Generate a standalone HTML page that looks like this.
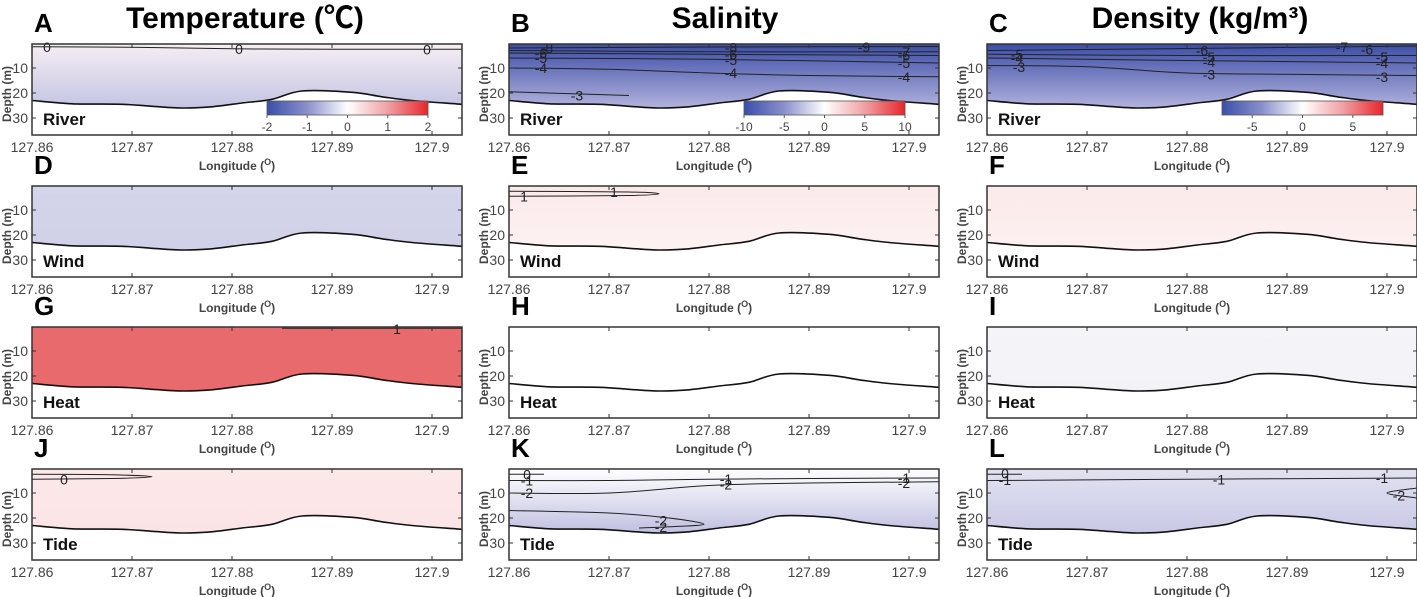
<!DOCTYPE html>
<html><head><meta charset="utf-8">
<style>
html,body{margin:0;padding:0;background:#fff;}
svg{display:block;font-family:"Liberation Sans",Arial,sans-serif;}
</style></head>
<body>
<svg id="fig" width="1417" height="597" viewBox="0 0 1417 597" xmlns="http://www.w3.org/2000/svg">
<defs>
<linearGradient id="cbar" x1="0" x2="1" y1="0" y2="0">
<stop offset="0" stop-color="#3a4fa8"/><stop offset="0.25" stop-color="#8a90cc"/><stop offset="0.5" stop-color="#ffffff"/><stop offset="0.75" stop-color="#f0a0a4"/><stop offset="1" stop-color="#e8262c"/>
</linearGradient>
</defs>
<text x="245" y="28" font-size="30" font-weight="bold" text-anchor="middle" font-family="'Liberation Sans','Noto Sans CJK KR',sans-serif">Temperature (℃)</text>
<text x="725" y="28" font-size="30" font-weight="bold" text-anchor="middle">Salinity</text>
<text x="1200" y="28" font-size="30" font-weight="bold" text-anchor="middle">Density (kg/m³)</text>
</svg>
<script>
const lonTicks = [127.86, 127.87, 127.88, 127.89, 127.9];
const depthTicks = [10, 20, 30];
const bathyLon = [127.86, 127.864, 127.869, 127.872, 127.875, 127.878, 127.881, 127.884, 127.887, 127.892, 127.895, 127.898, 127.903];
const bathyDepth = [23, 24.3, 24.5, 25.3, 26, 25.5, 24, 22.5, 19.2, 19.7, 21.5, 23, 24.5];
const rowNames = ["River", "Wind", "Heat", "Tide"];
const panelLetters = ["A","B","C","D","E","F","G","H","I","J","K","L"];
const panelTop = ["#f6eef4","#3c4ea8","#3c4ea8","#d4d4ea","#fbe9ea","#fbeaea","#e96a6d","#ffffff","#f5f5f9","#fde8e9","#ffffff","#e2e2f1"];
const panelBottom = ["#c4c4e2","#b2b2dc","#b2b2dc","#d0d0e8","#fdf2f2","#fcf0f0","#e96a6d","#ffffff","#f3f3f7","#fbe4e5","#c0c0e1","#c8c8e5"];
const cbarTicks = [[-2,-1,0,1,2],[-10,-5,0,5,10],[-5,0,5]];
const cbarRange = [2,10,8];
const contours = [
 [0,[127.86,127.87,127.88,127.89,127.903],[1.5,1.7,2.3,2.5,2.5],[[127.8615,1.5,"0"],[127.8807,2.3,"0"],[127.8995,2.5,"0"]]],
 [1,[127.86,127.88,127.903],[2,1.6,1.4],[[127.8638,2,"-8"],[127.8822,1.8,"-8"],[127.8955,1.5,"-9"]]],
 [1,[127.86,127.88,127.903],[3,3.5,3.5],[[127.8995,3.5,"-7"]]],
 [1,[127.86,127.88,127.903],[4,4.5,5],[[127.8632,4,"-6"],[127.8822,4.5,"-6"],[127.8995,5,"-6"]]],
 [1,[127.86,127.88,127.903],[6,6.5,8],[[127.8632,6,"-5"],[127.8822,6.8,"-5"],[127.8995,8,"-5"]]],
 [1,[127.86,127.87,127.88,127.89,127.903],[10,10.5,12,13,13.5],[[127.8632,10,"-4"],[127.8822,12,"-4"],[127.8995,13.5,"-4"]]],
 [1,[127.86,127.868,127.872],[19.5,20.5,21],[[127.8668,21,"-3"]]],
 [2,[127.86,127.88,127.903],[3,2.2,1.2],[[127.8815,3,"-6"],[127.8955,1.5,"-7"],[127.8980,2.5,"-6"]]],
 [2,[127.86,127.88,127.903],[4.5,5,5],[[127.8630,4.5,"-5"],[127.8822,5.5,"-5"],[127.8995,5.5,"-5"]]],
 [2,[127.86,127.88,127.903],[6,7,8],[[127.8630,6,"-4"],[127.8822,7.5,"-4"],[127.8995,8,"-4"]]],
 [2,[127.86,127.87,127.88,127.89,127.903],[9,9.5,12,12.5,13],[[127.8632,9.5,"-3"],[127.8822,12.5,"-3"],[127.8995,13.5,"-3"]]],
 [4,[127.86,127.872,127.875,127.872,127.86],[2.5,2.8,3.5,4.2,4.5],[[127.8615,4.5,"1"],[127.8705,2.8,"1"]]],
 [6,[127.885,127.903],[0.9,0.9],[[127.8965,1.2,"1"]]],
 [9,[127.86,127.868,127.872,127.868,127.86],[2.5,2.7,3.5,4.2,4.5],[[127.8632,4.5,"0"]]],
 [10,[127.86,127.8635],[2.5,2.5],[[127.8618,2.5,"0"]]],
 [10,[127.86,127.87,127.88,127.89,127.903],[5,5,4.5,4.2,4],[[127.8618,5,"-1"],[127.8817,4.3,"-1"],[127.8995,4,"-1"]]],
 [10,[127.86,127.87,127.88,127.89,127.903],[10,10,7,6,5.5],[[127.8618,10,"-2"],[127.8817,6.5,"-2"],[127.8995,6,"-2"]]],
 [10,[127.86,127.87,127.876,127.8795,127.876,127.873],[17,18,20,22.5,23.5,24],[[127.8752,21,"-2"],[127.8752,23.5,"-2"]]],
 [11,[127.86,127.8635],[2.5,2.5],[[127.8618,2.2,"0"]]],
 [11,[127.86,127.88,127.903],[5,4.5,4],[[127.8618,4.8,"-1"],[127.8832,4.5,"-1"],[127.8995,4,"-1"]]],
 [11,[127.903,127.900,127.903],[8,10,12],[[127.9012,11,"-2"]]]
];

const NS = "http://www.w3.org/2000/svg";
const svg = document.getElementById("fig");
const colX0 = [32, 509, 987];
const rowY0 = [44, 186, 327, 469];
const PW = 430, PH = 91;
function el(tag, attrs, parent){ const e=document.createElementNS(NS,tag); for(const k in attrs) e.setAttribute(k,attrs[k]); (parent||svg).appendChild(e); return e; }
function xScale(c, lon){ return colX0[c] + (lon - 127.86) * 10000; }
function yScale(r, d){ return rowY0[r] + (d - 0.4) * 2.5; }
function smooth(P){
  let d = "M" + P[0][0].toFixed(1) + "," + P[0][1].toFixed(1);
  for (let i = 0; i < P.length-1; i++) {
    const p0 = P[Math.max(0,i-1)], p1 = P[i], p2 = P[i+1], p3 = P[Math.min(P.length-1,i+2)];
    const c1 = [p1[0]+(p2[0]-p0[0])/6, p1[1]+(p2[1]-p0[1])/6];
    const c2 = [p2[0]-(p3[0]-p1[0])/6, p2[1]-(p3[1]-p1[1])/6];
    d += " C" + c1.map(v=>v.toFixed(1)).join(",") + " " + c2.map(v=>v.toFixed(1)).join(",") + " " + p2[0].toFixed(1)+","+p2[1].toFixed(1);
  }
  return d;
}

for (let p = 0; p < 12; p++) {
  const r = Math.floor(p/3), c = p%3;
  const x0 = colX0[c], y0 = rowY0[r];
  const g = el("g", {});
  
  
  const gid = "grad" + p;
  const lg = el("linearGradient", {id: gid, x1: 0, x2: 0, y1: 0, y2: 1}, svg.querySelector("defs"));
  el("stop", {offset: 0, "stop-color": panelTop[p]}, lg);
  el("stop", {offset: 1, "stop-color": panelBottom[p]}, lg);
  const P = bathyLon.map((l,i)=>[xScale(c,l), yScale(r,bathyDepth[i])]);
  const bd = smooth(P);
  const water = el("path", {d: "M"+x0+","+y0+" L"+(x0+PW)+","+y0+" L"+P[P.length-1][0].toFixed(1)+","+P[P.length-1][1].toFixed(1)+" "+smooth(P.slice().reverse()).replace(/^M/," L")+" Z", fill: "url(#"+gid+")"}, g);
  
  
  contours.filter(ct=>ct[0]===p).forEach(ct=>{
    const cp = ct[1].map((l,i)=>[xScale(c,l), yScale(r,ct[2][i])]);
    const line = el("path", {d: smooth(cp), fill:"none", stroke:"#222", "stroke-width":1}, g);
    
    
    ct[3].forEach(lb=>{
      const tx = xScale(c,lb[0]), ty = yScale(r,lb[1]);
      const t = el("text", {x: tx, y: ty+5, "font-size": 14, "text-anchor": "middle", fill: "#222"}, g);
      t.textContent = lb[2];
      
      
    });
  });
  const bl = el("path", {d: bd, fill: "none", stroke: "#111", "stroke-width": 1.6}, g);
  
  
  el("rect", {x: x0, y: y0, width: PW, height: PH, fill: "none", stroke: "#333", "stroke-width": 1.5}, g);
  lonTicks.forEach(l=>{
    const x = xScale(c,l);
    el("line", {x1:x, x2:x, y1:y0+PH, y2:y0+PH-4, stroke:"#333"}, g);
    el("line", {x1:x, x2:x, y1:y0, y2:y0+4, stroke:"#333"}, g);
    const t = el("text", {x:x, y:y0+PH+17, "font-size":14, "text-anchor":"middle", fill:"#444"}, g);
    t.textContent = String(l);
    
    
  });
  depthTicks.forEach(d=>{
    const y = yScale(r,d);
    el("line", {x1:x0, x2:x0+4, y1:y, y2:y, stroke:"#333"}, g);
    el("line", {x1:x0+PW, x2:x0+PW-4, y1:y, y2:y, stroke:"#333"}, g);
    const t = el("text", {x:x0-4, y:y+5, "font-size":14, "text-anchor":"end", fill:"#444"}, g);
    t.textContent = String(d);
    
    
  });
  const yl = el("text", {x:0, y:0, "font-size":12, "font-weight":"bold", "text-anchor":"middle", fill:"#444", transform:"translate("+(x0-21)+","+(y0+50)+") rotate(-90)"}, g);
  yl.textContent = "Depth (m)";
  
  
  const xl = el("text", {x:x0+PW/2-10, y:y0+PH+35, "font-size":12, "font-weight":"bold", "text-anchor":"middle", fill:"#444"}, g);
  xl.textContent = "Longitude (";
  const sup = el("tspan", {dy:-5, "font-size":9}, xl); sup.textContent = "O";
  const cl = el("tspan", {dy:5}, xl); cl.textContent = ")";
  
  
  const rn = el("text", {x:x0+11, y:y0+PH-10, "font-size":17, "font-weight":"bold", fill:"#111"}, g);
  rn.textContent = rowNames[r];
  
  
  const lt = el("text", {x:x0+2, y:y0-12, "font-size":26, "font-weight":"bold", fill:"#000"}, g);
  lt.textContent = panelLetters[p];
  
  
  if (r === 0) {
    const cx0 = x0 + 235, cw = 161, cy = y0 + 57;
    const cb = el("rect", {x:cx0, y:cy, width:cw, height:14, fill:"url(#cbar)", stroke:"#555", "stroke-width":0.8}, g);
    
    
    cbarTicks[c].forEach(v=>{
      const x = cx0 + (v + cbarRange[c]) / (2*cbarRange[c]) * cw;
      el("line", {x1:x, x2:x, y1:cy+14, y2:cy+17, stroke:"#555"}, g);
      const t = el("text", {x:x, y:cy+30, "font-size":12, "text-anchor":"middle", fill:"#444"}, g);
      t.textContent = String(v);
      
      
    });
  }
}
</script>
</body></html>
